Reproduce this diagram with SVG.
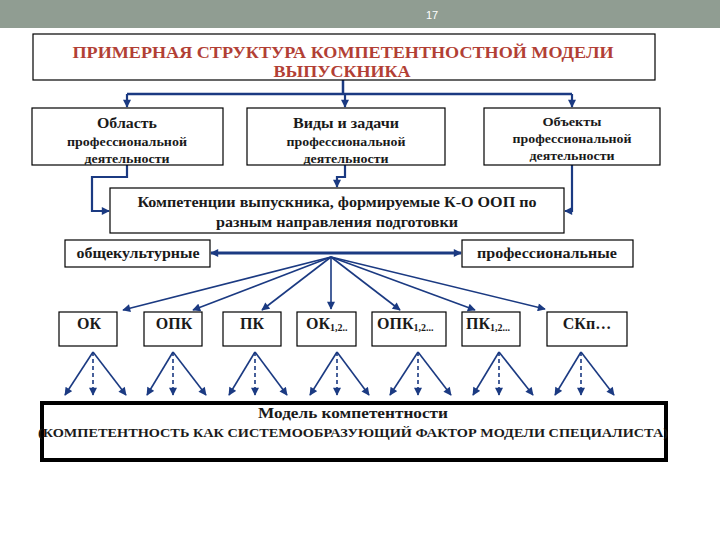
<svg xmlns="http://www.w3.org/2000/svg" width="720" height="540" viewBox="0 0 720 540">
<style>
.box{fill:#fff;stroke:#000;stroke-width:1.2}
.t{font-family:"Liberation Serif","Times New Roman",serif;font-weight:bold;fill:#1a1a1a;text-anchor:middle}
.ttl{font-family:"Liberation Serif","Times New Roman",serif;font-weight:bold;fill:#b23f35;text-anchor:middle;font-size:17px}
.ln{fill:none;stroke:#1b3a82;stroke-width:2.2}
.fn{fill:none;stroke:#1b3a82;stroke-width:1.6}
.ds{fill:none;stroke:#1b3a82;stroke-width:1.6;stroke-dasharray:4 3}
</style>
<defs>
<marker id="ah" viewBox="0 0 10 10" refX="9" refY="5" markerWidth="9" markerHeight="8" markerUnits="userSpaceOnUse" orient="auto">
<path d="M0,0 L10,5 L0,10 z" fill="#1b3a82"/>
</marker>
</defs>
<rect x="0" y="0" width="720" height="540" fill="#fff"/>
<g id="header">
<rect x="0" y="0" width="720" height="28" fill="#909d92"/>
<text x="432" y="19" font-family="Liberation Sans, Arial, sans-serif" font-size="11" fill="#fff" text-anchor="middle">17</text>
</g>
<g id="connectors">
<path class="ln" d="M343,80 V94 M127,94 H572" style="stroke-width:2.5"/>
<path class="ln" d="M127,94 V107" marker-end="url(#ah)"/>
<path class="ln" d="M345,94 V107" marker-end="url(#ah)"/>
<path class="ln" d="M572,94 V107" marker-end="url(#ah)"/>
<path class="ln" d="M127,165 V177 H92 V211 H109" marker-end="url(#ah)"/>
<path class="ln" d="M345,165 V177 H337 V187" marker-end="url(#ah)"/>
<path class="ln" d="M572,165 V211 H565" marker-end="url(#ah)"/>
<path class="ln" d="M330,253 H211" style="stroke-width:3.2" marker-end="url(#ah)"/>
<path class="ln" d="M330,253 H461" style="stroke-width:3.2" marker-end="url(#ah)"/>
<g class="hub">
<path class="fn" d="M331,257 L123,310" marker-end="url(#ah)"/>
<path class="fn" d="M331,257 L193,310" marker-end="url(#ah)"/>
<path class="fn" d="M331,257 L262,310" marker-end="url(#ah)"/>
<path class="fn" d="M331,257 L331,309" marker-end="url(#ah)"/>
<path class="fn" d="M331,257 L400,310" marker-end="url(#ah)"/>
<path class="fn" d="M331,257 L475,310" marker-end="url(#ah)"/>
<path class="fn" d="M331,257 L545,309" marker-end="url(#ah)"/>
</g>
<g id="fans">
<path class="fn" d="M93,352 L65,395" marker-end="url(#ah)"/><path class="ds" d="M93,352 V395" marker-end="url(#ah)"/><path class="fn" d="M93,352 L126,395" marker-end="url(#ah)"/>
<path class="fn" d="M173,352 L147,395" marker-end="url(#ah)"/><path class="ds" d="M173,352 V395" marker-end="url(#ah)"/><path class="fn" d="M173,352 L206,395" marker-end="url(#ah)"/>
<path class="fn" d="M255,352 L229,395" marker-end="url(#ah)"/><path class="ds" d="M255,352 V395" marker-end="url(#ah)"/><path class="fn" d="M255,352 L287,395" marker-end="url(#ah)"/>
<path class="fn" d="M337,352 L310,395" marker-end="url(#ah)"/><path class="ds" d="M337,352 V395" marker-end="url(#ah)"/><path class="fn" d="M337,352 L369,395" marker-end="url(#ah)"/>
<path class="fn" d="M418,352 L390,395" marker-end="url(#ah)"/><path class="ds" d="M418,352 V395" marker-end="url(#ah)"/><path class="fn" d="M418,352 L451,395" marker-end="url(#ah)"/>
<path class="fn" d="M499,352 L473,395" marker-end="url(#ah)"/><path class="ds" d="M499,352 V395" marker-end="url(#ah)"/><path class="fn" d="M499,352 L533,395" marker-end="url(#ah)"/>
<path class="fn" d="M581,352 L555,395" marker-end="url(#ah)"/><path class="ds" d="M581,352 V395" marker-end="url(#ah)"/><path class="fn" d="M581,352 L614,395" marker-end="url(#ah)"/>
</g>
</g>
<g id="title">
<rect class="box" x="33" y="34" width="622" height="46"/>
<text class="ttl" x="343" y="58" textLength="541" lengthAdjust="spacingAndGlyphs">ПРИМЕРНАЯ СТРУКТУРА КОМПЕТЕНТНОСТНОЙ МОДЕЛИ</text>
<text class="ttl" x="342" y="77" textLength="137" lengthAdjust="spacingAndGlyphs">ВЫПУСКНИКА</text>
</g>
<g id="n-oblast">
<rect class="box" x="32" y="108" width="191" height="57"/>
<text class="t" x="127" y="128" font-size="15" textLength="60" lengthAdjust="spacingAndGlyphs">Область</text>
<text class="t" x="127" y="146" font-size="13" textLength="120" lengthAdjust="spacingAndGlyphs">профессиональной</text>
<text class="t" x="127" y="163" font-size="13" textLength="85" lengthAdjust="spacingAndGlyphs">деятельности</text>
</g>
<g id="n-vidy">
<rect class="box" x="247" y="108" width="198" height="57"/>
<text class="t" x="346" y="128" font-size="15" textLength="106" lengthAdjust="spacingAndGlyphs">Виды и задачи</text>
<text class="t" x="346" y="146" font-size="13" textLength="119" lengthAdjust="spacingAndGlyphs">профессиональной</text>
<text class="t" x="346" y="163" font-size="13" textLength="85" lengthAdjust="spacingAndGlyphs">деятельности</text>
</g>
<g id="n-obekty">
<rect class="box" x="484" y="108" width="176" height="57"/>
<text class="t" x="572" y="126" font-size="13" textLength="59" lengthAdjust="spacingAndGlyphs">Объекты</text>
<text class="t" x="572" y="143" font-size="13" textLength="119" lengthAdjust="spacingAndGlyphs">профессиональной</text>
<text class="t" x="572" y="160" font-size="13" textLength="85" lengthAdjust="spacingAndGlyphs">деятельности</text>
</g>
<g id="n-komp">
<rect class="box" x="110" y="188" width="454" height="45"/>
<text class="t" x="337" y="207" font-size="15" textLength="399" lengthAdjust="spacingAndGlyphs">Компетенции выпускника, формируемые К-О ООП по</text>
<text class="t" x="337" y="227" font-size="15" textLength="242" lengthAdjust="spacingAndGlyphs">разным направления подготовки</text>
</g>
<g id="n-obsh">
<rect class="box" x="65" y="240" width="145" height="27"/>
<text class="t" x="138" y="258" font-size="14" textLength="123" lengthAdjust="spacingAndGlyphs">общекультурные</text>
</g>
<g id="n-prof">
<rect class="box" x="462" y="240" width="171" height="27"/>
<text class="t" x="547" y="258" font-size="14" textLength="140" lengthAdjust="spacingAndGlyphs">профессиональные</text>
</g>
<g id="n-ok">
<rect class="box" x="59" y="312" width="58" height="34"/>
<text class="t" x="89" y="329" font-size="16">ОК</text>
</g>
<g id="n-opk">
<rect class="box" x="144" y="312" width="58" height="34"/>
<text class="t" x="174" y="329" font-size="16">ОПК</text>
</g>
<g id="n-pk">
<rect class="box" x="223" y="312" width="58" height="34"/>
<text class="t" x="252" y="329" font-size="16">ПК</text>
</g>
<g id="n-ok12">
<rect class="box" x="297" y="312" width="59" height="34"/>
<text class="t" x="306" y="329" font-size="16" text-anchor="start" style="text-anchor:start">ОК<tspan font-size="10" dy="2">1,2..</tspan></text>
</g>
<g id="n-opk12">
<rect class="box" x="372" y="312" width="74" height="34"/>
<text class="t" x="377" y="329" font-size="16" style="text-anchor:start">ОПК<tspan font-size="10" dy="2">1,2...</tspan></text>
</g>
<g id="n-pk12">
<rect class="box" x="462" y="312" width="58" height="34"/>
<text class="t" x="466" y="329" font-size="16" style="text-anchor:start">ПК<tspan font-size="10" dy="2">1,2...</tspan></text>
</g>
<g id="n-skn">
<rect class="box" x="547" y="312" width="80" height="34"/>
<text class="t" x="587" y="329" font-size="16">СКп…</text>
</g>
<g id="n-model">
<rect x="42" y="403" width="624" height="57" fill="#fff" stroke="#000" stroke-width="4"/>
<text class="t" x="353" y="418" font-size="14" textLength="190" lengthAdjust="spacingAndGlyphs">Модель компетентности</text>
<text class="t" x="353" y="437" font-size="13.5" textLength="630" lengthAdjust="spacingAndGlyphs">(КОМПЕТЕНТНОСТЬ КАК СИСТЕМООБРАЗУЮЩИЙ ФАКТОР МОДЕЛИ СПЕЦИАЛИСТА)</text>
</g>
</svg>
